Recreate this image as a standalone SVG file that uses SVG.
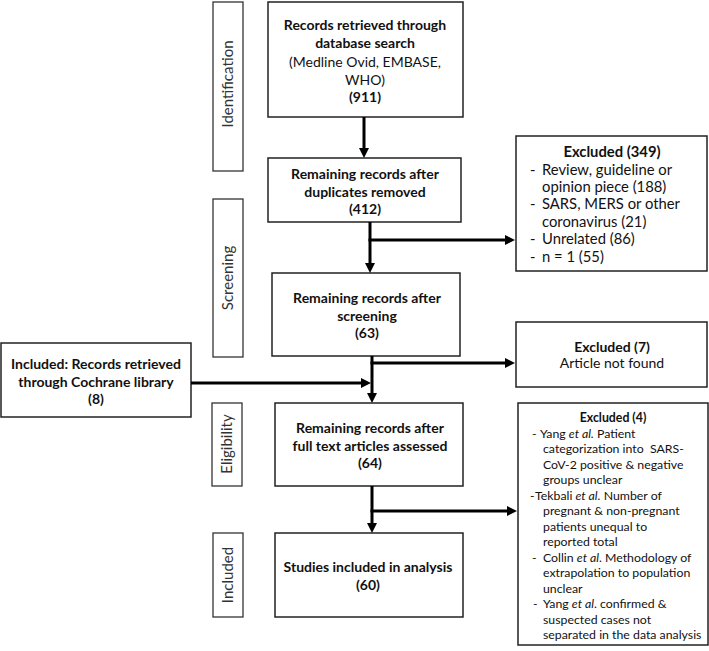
<svg xmlns="http://www.w3.org/2000/svg" width="709" height="651" viewBox="0 0 709 651">
<defs>
<marker id="ah" markerUnits="userSpaceOnUse" markerWidth="11" markerHeight="11" refX="1" refY="5" orient="auto">
<path d="M0,0 L10,5 L0,10 z" fill="#000"/>
</marker>
</defs>
<style>
.box{fill:#fff;stroke:#222;stroke-width:1.5}
.lab{fill:#fff;stroke:#333;stroke-width:1.3}
.t{font-family:Lato,"Liberation Sans",sans-serif;font-size:14px;fill:#111;text-anchor:middle}
.b{font-weight:bold}
.s{font-family:Lato,"Liberation Sans",sans-serif;font-size:12.3px;fill:#111}
.m{font-family:Lato,"Liberation Sans",sans-serif;font-size:14.8px;fill:#111}
.v{font-family:Lato,"Liberation Sans",sans-serif;font-size:15px;fill:#333;text-anchor:middle}
.c{stroke:#000;stroke-width:3;fill:none}
</style>
<rect width="709" height="651" fill="#fff"/>

<g id="lab-identification">
<rect class="lab" x="213" y="2" width="30" height="169"/>
<text class="v" transform="translate(233,84) rotate(-90)">Identification</text>
</g>
<g id="lab-screening">
<rect class="lab" x="213" y="199" width="30" height="158"/>
<text class="v" transform="translate(233,278) rotate(-90)">Screening</text>
</g>
<g id="lab-eligibility">
<rect class="lab" x="212" y="403" width="30" height="83"/>
<text class="v" transform="translate(232,444) rotate(-90)">Eligibility</text>
</g>
<g id="lab-included">
<rect class="lab" x="213" y="533" width="30" height="84"/>
<text class="v" transform="translate(233,575) rotate(-90)">Included</text>
</g>

<g id="n-records">
<rect class="box" x="268" y="2" width="195" height="115"/>
<text class="t b" x="365" y="30">Records retrieved through</text>
<text class="t b" x="365" y="48">database search</text>
<text class="t" x="365" y="67">(Medline Ovid, EMBASE,</text>
<text class="t" x="365" y="85">WHO)</text>
<text class="t b" x="365" y="102">(911)</text>
</g>

<g id="n-duplicates">
<rect class="box" x="268" y="158" width="193" height="64"/>
<text class="t b" x="365" y="179">Remaining records after</text>
<text class="t b" x="365" y="197">duplicates removed</text>
<text class="t b" x="365" y="214">(412)</text>
</g>

<g id="n-excluded349">
<rect class="box" x="516" y="136" width="191" height="135"/>
<text class="m b" x="612" y="157" text-anchor="middle">Excluded (349)</text>
<text class="m" x="530" y="175">-</text><text class="m" x="542" y="175">Review, guideline or</text>
<text class="m" x="542" y="192">opinion piece (188)</text>
<text class="m" x="530" y="209">-</text><text class="m" x="542" y="209">SARS, MERS or other</text>
<text class="m" x="542" y="227">coronavirus (21)</text>
<text class="m" x="530" y="244">-</text><text class="m" x="542" y="244">Unrelated (86)</text>
<text class="m" x="530" y="262">-</text><text class="m" x="542" y="262">n = 1 (55)</text>
</g>

<g id="n-screening">
<rect class="box" x="272" y="273" width="188" height="83"/>
<text class="t b" x="367" y="303">Remaining records after</text>
<text class="t b" x="367" y="321">screening</text>
<text class="t b" x="367" y="338">(63)</text>
</g>

<g id="n-cochrane">
<rect class="box" x="1" y="343" width="190" height="74"/>
<text class="t b" x="96" y="369">Included: Records retrieved</text>
<text class="t b" x="96" y="387">through Cochrane library</text>
<text class="t b" x="96" y="404">(8)</text>
</g>

<g id="n-excluded7">
<rect class="box" x="516" y="322" width="191" height="65"/>
<text class="t b" x="612" y="352">Excluded (7)</text>
<text class="t" x="612" y="368">Article not found</text>
</g>

<g id="n-fulltext">
<rect class="box" x="275" y="403" width="188" height="83"/>
<text class="t b" x="370" y="433">Remaining records after</text>
<text class="t b" x="370" y="451">full text articles assessed</text>
<text class="t b" x="370" y="468">(64)</text>
</g>

<g id="n-excluded4">
<rect class="box" x="518" y="403" width="190" height="242"/>
<text class="s b" x="613" y="422" text-anchor="middle">Excluded (4)</text>
<text class="s" x="532" y="438">-</text><text class="s" x="540" y="438">Yang <tspan font-style="italic">et al.</tspan> Patient</text>
<text class="s" x="543" y="453" xml:space="preserve">categorization into  SARS-</text>
<text class="s" x="543" y="469">CoV-2 positive &amp; negative</text>
<text class="s" x="543" y="484">groups unclear</text>
<text class="s" x="530" y="500">-</text><text class="s" x="535" y="500">Tekbali <tspan font-style="italic">et al.</tspan> Number of</text>
<text class="s" x="543" y="515">pregnant &amp; non-pregnant</text>
<text class="s" x="543" y="531">patients unequal to</text>
<text class="s" x="543" y="546">reported total</text>
<text class="s" x="532" y="562">-</text><text class="s" x="543" y="562">Collin <tspan font-style="italic">et al</tspan>. Methodology of</text>
<text class="s" x="543" y="577">extrapolation to population</text>
<text class="s" x="543" y="593">unclear</text>
<text class="s" x="533" y="608">-</text><text class="s" x="543" y="608">Yang <tspan font-style="italic">et al</tspan>. confirmed &amp;</text>
<text class="s" x="543" y="624">suspected cases not</text>
<text class="s" x="543" y="639">separated in the data analysis</text>
</g>

<g id="n-included">
<rect class="box" x="275" y="533" width="188" height="84"/>
<text class="t b" x="368" y="572">Studies included in analysis</text>
<text class="t b" x="368" y="590">(60)</text>
</g>

<g id="connectors">
<line class="c" x1="364" y1="117" x2="364" y2="149" marker-end="url(#ah)"/>
<line class="c" x1="370" y1="222" x2="370" y2="264" marker-end="url(#ah)"/>
<line class="c" x1="368.5" y1="240" x2="506" y2="240" marker-end="url(#ah)"/>
<line class="c" x1="372" y1="356" x2="372" y2="394" marker-end="url(#ah)"/>
<line class="c" x1="370.5" y1="363" x2="506" y2="363" marker-end="url(#ah)"/>
<line class="c" x1="191" y1="383" x2="362" y2="383" marker-end="url(#ah)"/>
<line class="c" x1="372" y1="486" x2="372" y2="524" marker-end="url(#ah)"/>
<line class="c" x1="370.5" y1="511" x2="508" y2="511" marker-end="url(#ah)"/>
</g>
</svg>
